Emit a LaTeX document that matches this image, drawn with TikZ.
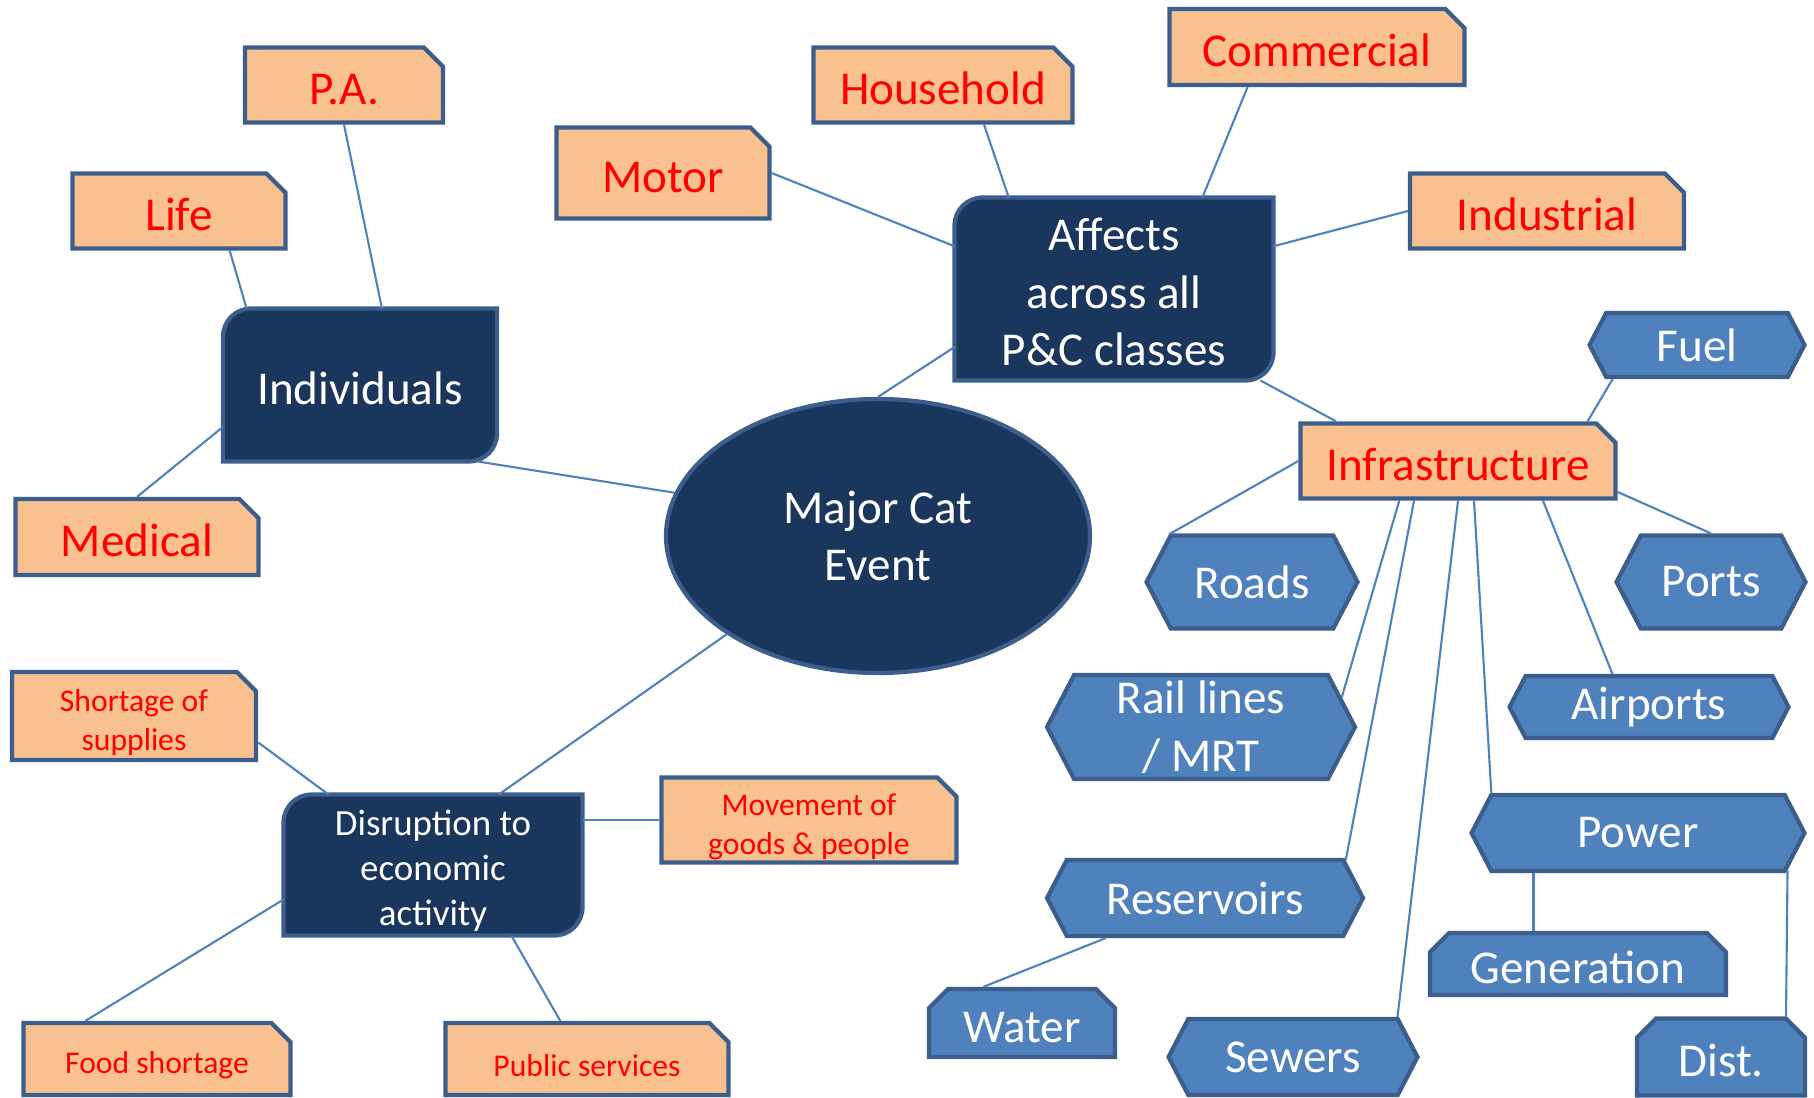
\documentclass[tikz,border=0pt]{standalone}
\usepackage{fontspec}
\setmainfont{Carlito}
\usepackage{tikz}
\usetikzlibrary{shapes.geometric, shapes.misc, shapes.symbols, backgrounds}

\definecolor{navy}{HTML}{1A365D}
\definecolor{edgeblue}{HTML}{3B5E8C}
\definecolor{peach}{HTML}{F9C090}
\definecolor{steel}{HTML}{4F81BD}

\newcommand{\bigtxt}{\fontsize{13.4}{16.4}\selectfont}
\newcommand{\smalltxt}{\fontsize{9}{11}\selectfont}
% two small lines, taking no height of their own in the box
\newcommand{\twoline}[2]{\raisebox{0.6pt}[0pt][0pt]{\begin{tabular}{@{}c@{}}#1\\#2\end{tabular}}}

% navy box with rounded top-left and bottom-right corners
\newcommand{\navyshape}[1]{%
  \draw[draw=edgeblue, fill=navy, line width=1.2pt]
    (#1.south west) -- ([yshift=-0.28cm]#1.north west)
    arc[start angle=180, end angle=90, radius=0.28cm] -- (#1.north east)
    -- ([yshift=0.28cm]#1.south east)
    arc[start angle=0, end angle=-90, radius=0.28cm] -- cycle;}

\begin{document}
\begin{tikzpicture}[
    snipbox/.style={chamfered rectangle, chamfered rectangle corners=north east,
      chamfered rectangle xsep=0.08cm, draw=edgeblue, line width=1.2pt,
      fill=peach, text=red, inner sep=0pt, align=center},
    bigsnip/.style={snipbox, font=\bigtxt, execute at begin node={\rule{0pt}{11.2pt}}},
    smallsnip/.style={snipbox, font=\smalltxt, execute at begin node={\rule{0pt}{10pt}}},
    tabbox/.style={chamfered rectangle, chamfered rectangle corners={north west, north east},
      chamfered rectangle xsep=0.08cm, draw=edgeblue, line width=1.2pt,
      fill=steel, text=white, inner sep=0pt, font=\bigtxt,
      execute at begin node={\rule{0pt}{11.2pt}}},
    hexbox/.style={signal, signal to=west and east, signal pointer angle=125,
      draw=edgeblue, line width=1.2pt, fill=steel, text=white, inner sep=0pt,
      align=center, font=\bigtxt},
    navybox/.style={rectangle, outer sep=0pt, inner sep=0pt, text=white, align=center},
    link/.style={draw=steel, line width=0.6pt}
  ]
  \useasboundingbox (0,0) rectangle (18.14,10.97);

  % centre
  \node[ellipse, draw=edgeblue, line width=1.2pt, fill=navy, text=white, align=center,
        font=\bigtxt, minimum width=4.24cm, minimum height=2.74cm] (event) at (8.78,5.61) {Major Cat\\Event};

  % dark boxes
  \node[navybox, font=\bigtxt, minimum width=2.74cm, minimum height=1.53cm] (indiv) at (3.60,7.12) {\rule{0pt}{11pt}Individuals};
  \node[navybox, font=\bigtxt, minimum width=3.19cm, minimum height=1.83cm] (affects) at (11.14,8.08) {\rule{0pt}{11pt}Affects\\across all\\P\&C classes};
  \node[navybox, font=\fontsize{10.5}{12.8}\selectfont, minimum width=2.99cm, minimum height=1.41cm] (disrupt) at (4.33,2.32) {\rule{0pt}{10.5pt}Disruption to\\economic\\activity};
  \begin{scope}[on background layer]
    \navyshape{indiv}
    \navyshape{affects}
    \navyshape{disrupt}
  \end{scope}

  % individuals
  \node[bigsnip, minimum width=1.98cm, minimum height=0.75cm] (pa) at (3.44,10.12) {P.A.};
  \node[bigsnip, minimum width=2.13cm, minimum height=0.75cm] (life) at (1.79,8.86) {Life};
  \node[bigsnip, minimum width=2.43cm, minimum height=0.76cm] (medical) at (1.37,5.60) {Medical};

  % classes
  \node[bigsnip, minimum width=2.13cm, minimum height=0.91cm] (motor) at (6.63,9.24) {Motor};
  \node[bigsnip, minimum width=2.59cm, minimum height=0.75cm] (household) at (9.43,10.12) {Household};
  \node[bigsnip, minimum width=2.95cm, minimum height=0.76cm] (commercial) at (13.17,10.50) {Commercial};
  \node[bigsnip, minimum width=2.74cm, minimum height=0.75cm] (industrial) at (15.47,8.86) {Industrial};
  \node[bigsnip, minimum width=3.15cm, minimum height=0.75cm] (infra) at (14.58,6.36) {Infrastructure};

  % economy
  \node[smallsnip, minimum width=2.44cm, minimum height=0.88cm] (shortage) at (1.34,3.81) {\twoline{Shortage of}{supplies}};
  \node[smallsnip, minimum width=2.95cm, minimum height=0.85cm] (movement) at (8.09,2.77) {\twoline{Movement of}{goods \& people}};
  \node[smallsnip, minimum width=2.67cm, minimum height=0.72cm] (food) at (1.57,0.38) {Food shortage};
  \node[smallsnip, minimum width=2.83cm, minimum height=0.72cm] (public) at (5.87,0.38) {Public services};

  % infrastructure
  \node[hexbox, minimum width=2.15cm, minimum height=0.64cm] (fuel) at (16.97,7.52) {Fuel};
  \node[hexbox, minimum width=2.11cm, minimum height=0.93cm] (roads) at (12.52,5.15) {Roads};
  \node[hexbox, minimum width=1.89cm, minimum height=0.93cm] (ports) at (17.11,5.15) {Ports};
  \node[hexbox, minimum width=3.08cm, minimum height=1.04cm] (rail) at (12.01,3.70) {Rail lines\\/ MRT};
  \node[hexbox, minimum width=2.79cm, minimum height=0.62cm] (airports) at (16.49,3.90) {Airports};
  \node[hexbox, minimum width=3.33cm, minimum height=0.76cm] (power) at (16.38,2.64) {Power};
  \node[hexbox, minimum width=3.16cm, minimum height=0.76cm] (reservoirs) at (12.05,1.99) {Reservoirs};
  \node[hexbox, minimum width=2.49cm, minimum height=0.76cm] (sewers) at (12.93,0.40) {Sewers};
  \node[tabbox, minimum width=2.96cm, minimum height=0.56cm] (generation) at (15.78,1.33) {Generation};
  \node[tabbox, minimum width=1.86cm, minimum height=0.68cm] (water) at (10.22,0.74) {Water};
  \node[tabbox, minimum width=1.68cm, minimum height=0.77cm] (dist) at (17.21,0.40) {Dist.};

  \draw[link] (pa.south) -- (indiv.74);
  \draw[link] (life.-38) -- (indiv.146);
  \draw[link] (medical.north) -- (indiv.197);
  \draw[link] (indiv.-33) -- (event.168);
  \draw[link] (event.north) -- (affects.200);
  \draw[link] (motor.east) -- (affects.165);
  \draw[link] (household.-44) -- (affects.139);
  \draw[link] (commercial.210) -- (affects.46);
  \draw[link] (industrial.west) -- (affects.15);
  \draw[link] (affects.-32) -- (infra.162);
  \draw[link] (fuel.202) -- (infra.17);
  \draw[link] (infra.west) -- (roads.150);
  \draw[link] (infra.-11) -- (ports.north);
  \draw[link] (infra.-25) -- (airports.138);
  \draw[link] (infra.214) -- (rail.12);
  \draw[link] (infra.222) -- (reservoirs.15);
  \draw[link] (infra.south) -- (sewers.21);
  \draw[link] (infra.-68) -- (power.165);
  \draw[link] (reservoirs.202) -- (water.137);
  \draw[link] (power.201) -- (power.201 |- generation.north);
  \draw[link] (power.-14) -- (dist.32);
  \draw[link] (event.213) -- (disrupt.47);
  \draw[link] (shortage.-12) -- (disrupt.146);
  \draw[link] (movement.west) -- (movement.west -| disrupt.east);
  \draw[link] (disrupt.193) -- (food.152);
  \draw[link] (disrupt.-42) -- (public.125);
\end{tikzpicture}
\end{document}
